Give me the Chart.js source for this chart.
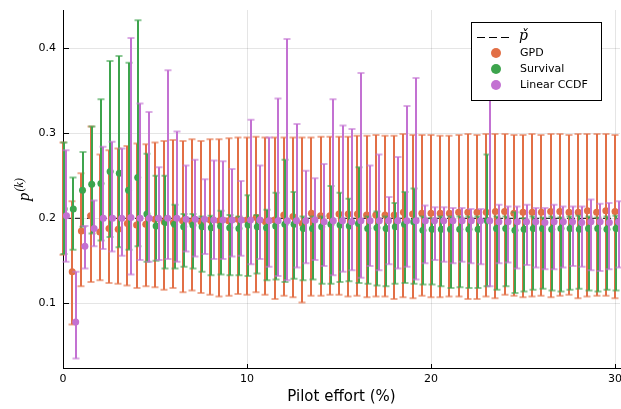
<!DOCTYPE html>
<html>
<head>
<meta charset="utf-8">
<script src="https://cdn.jsdelivr.net/npm/chart.js@4.4.1/dist/chart.umd.min.js"></script>
<style>
  html, body { margin: 0; padding: 0; background: #fff; }
  #wrap { width: 621px; height: 409px; }
</style>
</head>
<body>
<div id="wrap"><canvas id="myChart" width="621" height="409"></canvas></div>
<script>
// Pilot effort (%) grid
const effort = [0, 0.5, 1, 1.5, 2, 2.5, 3, 3.5, 4, 4.5, 5, 5.5, 6, 6.5, 7, 7.5, 8, 8.5, 9, 9.5,
    10, 10.5, 11, 11.5, 12, 12.5, 13, 13.5, 14, 14.5, 15, 15.5, 16, 16.5, 17, 17.5, 18, 18.5, 19, 19.5,
    20, 20.5, 21, 21.5, 22, 22.5, 23, 23.5, 24, 24.5, 25, 25.5, 26, 26.5, 27, 27.5, 28, 28.5, 29, 29.5, 30];

// small x shift of each method's effort values
const survShift = 0.06;
const ccdfShift = 0.19;

const pTarget = 0.2;

// GPD
const gpdMean = [0.211, 0.137, 0.185, 0.203, 0.184, 0.188, 0.187, 0.194, 0.192, 0.193,
    0.199, 0.196, 0.195, 0.197, 0.196, 0.196, 0.198, 0.197, 0.197, 0.199,
    0.198, 0.201, 0.196, 0.198, 0.204, 0.202, 0.194, 0.206, 0.203, 0.203,
    0.205, 0.205, 0.205, 0.204, 0.204, 0.204, 0.204, 0.207, 0.205, 0.206,
    0.206, 0.206, 0.206, 0.207, 0.207, 0.207, 0.207, 0.208, 0.208, 0.206,
    0.207, 0.207, 0.207, 0.208, 0.208, 0.207, 0.207, 0.209, 0.207, 0.209, 0.208];
const gpdLo = [0.157, 0.075, 0.120, 0.125, 0.127, 0.124, 0.123, 0.121, 0.118, 0.120,
    0.119, 0.116, 0.118, 0.113, 0.115, 0.112, 0.110, 0.108, 0.109, 0.111,
    0.110, 0.113, 0.110, 0.105, 0.109, 0.107, 0.101, 0.109, 0.109, 0.110,
    0.110, 0.108, 0.109, 0.107, 0.108, 0.108, 0.105, 0.107, 0.106, 0.109,
    0.107, 0.107, 0.108, 0.108, 0.105, 0.105, 0.108, 0.106, 0.110, 0.109,
    0.107, 0.108, 0.109, 0.107, 0.109, 0.110, 0.106, 0.108, 0.109, 0.109, 0.106];
const gpdHi = [0.289, 0.220, 0.253, 0.308, 0.275, 0.280, 0.282, 0.285, 0.288, 0.287,
    0.289, 0.291, 0.292, 0.291, 0.293, 0.291, 0.293, 0.293, 0.294, 0.295,
    0.295, 0.296, 0.295, 0.295, 0.295, 0.295, 0.295, 0.295, 0.296, 0.296,
    0.296, 0.296, 0.297, 0.297, 0.298, 0.297, 0.297, 0.299, 0.298, 0.298,
    0.298, 0.297, 0.297, 0.298, 0.299, 0.298, 0.299, 0.299, 0.299, 0.298,
    0.298, 0.299, 0.298, 0.299, 0.299, 0.298, 0.299, 0.299, 0.299, 0.299, 0.298];

// Survival
const survMean = [0.211, 0.211, 0.233, 0.240, 0.241, 0.255, 0.253, 0.233, 0.248, 0.205,
    0.191, 0.195, 0.193, 0.190, 0.192, 0.190, 0.189, 0.191, 0.189, 0.188,
    0.192, 0.190, 0.189, 0.191, 0.193, 0.193, 0.188, 0.188, 0.190, 0.193,
    0.192, 0.191, 0.194, 0.188, 0.189, 0.188, 0.190, 0.193, 0.196, 0.186,
    0.187, 0.187, 0.187, 0.187, 0.187, 0.187, 0.197, 0.188, 0.188, 0.186,
    0.187, 0.188, 0.188, 0.187, 0.188, 0.188, 0.187, 0.188, 0.188, 0.187, 0.188];
const survLo = [0.158, 0.163, 0.190, 0.182, 0.174, 0.178, 0.166, 0.163, 0.167, 0.149,
    0.150, 0.141, 0.141, 0.143, 0.141, 0.137, 0.133, 0.134, 0.133, 0.133,
    0.132, 0.135, 0.127, 0.128, 0.125, 0.129, 0.127, 0.128, 0.123, 0.123,
    0.125, 0.126, 0.124, 0.123, 0.121, 0.120, 0.123, 0.124, 0.123, 0.122,
    0.122, 0.120, 0.118, 0.119, 0.118, 0.118, 0.120, 0.116, 0.120, 0.112,
    0.114, 0.116, 0.117, 0.115, 0.114, 0.116, 0.117, 0.115, 0.114, 0.116, 0.115];
const survHi = [0.289, 0.248, 0.278, 0.308, 0.340, 0.385, 0.391, 0.383, 0.433, 0.276,
    0.250, 0.250, 0.216, 0.205, 0.205, 0.202, 0.203, 0.209, 0.204, 0.202,
    0.227, 0.204, 0.210, 0.230, 0.269, 0.231, 0.202, 0.202, 0.202, 0.238,
    0.230, 0.223, 0.260, 0.202, 0.208, 0.202, 0.218, 0.231, 0.235, 0.202,
    0.200, 0.202, 0.202, 0.202, 0.202, 0.202, 0.275, 0.202, 0.202, 0.207,
    0.200, 0.202, 0.201, 0.202, 0.201, 0.202, 0.203, 0.202, 0.201, 0.202, 0.203];

// Linear CCDF
const ccdfMean = [0.203, 0.078, 0.167, 0.188, 0.200, 0.200, 0.200, 0.201, 0.200, 0.200,
    0.200, 0.200, 0.200, 0.199, 0.199, 0.199, 0.198, 0.198, 0.198, 0.198,
    0.198, 0.198, 0.197, 0.197, 0.197, 0.197, 0.197, 0.198, 0.196, 0.197,
    0.197, 0.196, 0.197, 0.197, 0.197, 0.197, 0.197, 0.197, 0.197, 0.197,
    0.197, 0.197, 0.197, 0.197, 0.197, 0.197, 0.197, 0.196, 0.196, 0.196,
    0.196, 0.196, 0.195, 0.196, 0.196, 0.196, 0.195, 0.196, 0.196, 0.195, 0.196];
const ccdfLo = [0.149, 0.035, 0.141, 0.167, 0.164, 0.161, 0.156, 0.134, 0.151, 0.149,
    0.151, 0.152, 0.149, 0.161, 0.155, 0.158, 0.152, 0.152, 0.155, 0.156,
    0.146, 0.152, 0.143, 0.132, 0.127, 0.142, 0.147, 0.151, 0.144, 0.133,
    0.137, 0.139, 0.130, 0.144, 0.139, 0.146, 0.141, 0.143, 0.128, 0.147,
    0.151, 0.149, 0.147, 0.149, 0.147, 0.146, 0.120, 0.147, 0.148, 0.141,
    0.145, 0.142, 0.140, 0.140, 0.142, 0.144, 0.143, 0.139, 0.138, 0.140, 0.142];
const ccdfHi = [0.280, 0.137, 0.191, 0.221, 0.284, 0.290, 0.282, 0.412, 0.335, 0.325,
    0.260, 0.374, 0.302, 0.262, 0.269, 0.246, 0.268, 0.267, 0.258, 0.244,
    0.316, 0.262, 0.295, 0.341, 0.411, 0.311, 0.256, 0.247, 0.264, 0.340,
    0.309, 0.305, 0.371, 0.262, 0.275, 0.225, 0.272, 0.332, 0.365, 0.215,
    0.213, 0.213, 0.212, 0.212, 0.211, 0.211, 0.395, 0.216, 0.214, 0.214,
    0.216, 0.212, 0.212, 0.216, 0.214, 0.214, 0.214, 0.222, 0.217, 0.218, 0.220];

const xTicks = [0, 10, 20, 30];
const yTicks = [0.1, 0.2, 0.3, 0.4];

const colGPD = "#e26f46";
const colSurv = "#3da44d";
const colCCDF = "#c371d2";

const FONT = "'DejaVu Sans', sans-serif";
const xMax = 30.27;

function toPoints(xs, ys, shift) {
    return xs.map((x, i) => ({ x: x + shift, y: ys[i] }));
}

// error bars are drawn just before each series' markers
const errorBars = {
    id: 'errorBars',
    beforeDatasetDraw(chart, args) {
        const ds = chart.data.datasets[args.index];
        if (!ds.errLo) return;
        const ctx = chart.ctx;
        const xs = chart.scales.x, ys = chart.scales.y;
        ctx.save();
        ctx.strokeStyle = ds.backgroundColor;
        ctx.lineWidth = 2;
        ds.data.forEach((p, i) => {
            const px = Math.round(xs.getPixelForValue(p.x));
            const top = ys.getPixelForValue(ds.errHi[i]);
            const bot = ys.getPixelForValue(ds.errLo[i]);
            ctx.globalAlpha = 1;
            ctx.beginPath();
            ctx.moveTo(px, top);
            ctx.lineTo(px, bot);
            ctx.stroke();
            ctx.globalAlpha = 0.6;
            ctx.beginPath();
            ctx.moveTo(px - 3.5, top);
            ctx.lineTo(px + 3.5, top);
            ctx.moveTo(px - 3.5, bot);
            ctx.lineTo(px + 3.5, bot);
            ctx.stroke();
        });
        ctx.restore();
    }
};

// inward tick marks and x tick labels
const axisTicks = {
    id: 'axisTicks',
    beforeDatasetsDraw(chart) {
        const ctx = chart.ctx;
        const a = chart.chartArea;
        const xs = chart.scales.x, ys = chart.scales.y;
        ctx.save();
        ctx.strokeStyle = "#000";
        ctx.lineWidth = 1;
        ctx.beginPath();
        xTicks.forEach(v => {
            const px = Math.round(xs.getPixelForValue(v)) + 0.5;
            ctx.moveTo(px, a.bottom);
            ctx.lineTo(px, a.bottom - 4);
        });
        yTicks.forEach(v => {
            const py = Math.round(ys.getPixelForValue(v)) + 0.5;
            ctx.moveTo(a.left, py);
            ctx.lineTo(a.left + 6, py);
        });
        ctx.stroke();

        ctx.fillStyle = "#000";
        ctx.font = "11px " + FONT;
        ctx.textAlign = 'center';
        ctx.textBaseline = 'middle';
        xTicks.forEach(v => {
            ctx.fillText(String(v), xs.getPixelForValue(v), a.bottom + 11);
        });
        ctx.restore();
    }
};

const yLabel = {
    id: 'yLabel',
    afterDraw(chart) {
        const ctx = chart.ctx;
        const a = chart.chartArea;
        ctx.save();
        ctx.translate(29, (a.top + a.bottom) / 2 + 1);
        ctx.rotate(-Math.PI / 2);
        ctx.fillStyle = "#000";
        ctx.textBaseline = 'alphabetic';
        ctx.font = "italic 17px 'Liberation Serif'";
        const pw = ctx.measureText('p').width;
        ctx.font = "italic 12px 'Liberation Serif'";
        const kw = ctx.measureText('(k)').width;
        const x0 = -(pw + kw) / 2;
        ctx.font = "italic 17px 'Liberation Serif'";
        ctx.fillText('p', x0, 0);
        ctx.font = "italic 12px 'Liberation Serif'";
        ctx.fillText('(k)', x0 + pw + 1, -6);
        ctx.restore();
    }
};

const legendBox = {
    id: 'legendBox',
    afterDraw(chart) {
        const ctx = chart.ctx;
        const bx = 471.5, by = 22.5, bw = 130, bh = 78;
        ctx.save();
        ctx.fillStyle = "#fff";
        ctx.fillRect(bx, by, bw, bh);
        ctx.strokeStyle = "#000";
        ctx.lineWidth = 1;
        ctx.strokeRect(bx, by, bw, bh);

        ctx.setLineDash([8, 4]);
        ctx.beginPath();
        ctx.moveTo(477, 37.5);
        ctx.lineTo(513, 37.5);
        ctx.stroke();
        ctx.setLineDash([]);

        ctx.fillStyle = "#000";
        ctx.textBaseline = 'middle';
        ctx.font = "italic 14px 'DejaVu Serif'";
        ctx.fillText('p\u030C', 519, 36);

        const items = [['GPD', colGPD, 53], ['Survival', colSurv, 69], ['Linear CCDF', colCCDF, 85]];
        ctx.font = "11px " + FONT;
        items.forEach(([label, col, y]) => {
            ctx.fillStyle = col;
            ctx.beginPath();
            ctx.arc(496, y, 5, 0, Math.PI * 2);
            ctx.fill();
            ctx.fillStyle = "#000";
            ctx.fillText(label, 520, y);
        });
        ctx.restore();
    }
};

const ctx = document.getElementById("myChart").getContext("2d");
new Chart(ctx, {
    type: 'scatter',
    data: {
        datasets: [
            {
                type: 'line',
                label: 'p̌',
                data: [{ x: 0, y: pTarget }, { x: xMax, y: pTarget }],
                borderColor: "#000",
                borderWidth: 1,
                borderDash: [8, 4],
                pointRadius: 0,
                fill: false,
                order: 4
            },
            {
                label: 'GPD',
                data: toPoints(effort, gpdMean, 0),
                errLo: gpdLo, errHi: gpdHi,
                backgroundColor: colGPD,
                pointRadius: 3.5,
                pointBorderWidth: 0,
                order: 3
            },
            {
                label: 'Survival',
                data: toPoints(effort, survMean, survShift),
                errLo: survLo, errHi: survHi,
                backgroundColor: colSurv,
                pointRadius: 3.5,
                pointBorderWidth: 0,
                order: 2
            },
            {
                label: 'Linear CCDF',
                data: toPoints(effort, ccdfMean, ccdfShift),
                errLo: ccdfLo, errHi: ccdfHi,
                backgroundColor: colCCDF,
                pointRadius: 3.5,
                pointBorderWidth: 0,
                order: 1
            }
        ]
    },
    options: {
        responsive: false,
        animation: false,
        devicePixelRatio: 1,
        layout: { autoPadding: false, padding: { top: 10, right: 1, bottom: 0, left: 0 } },
        plugins: {
            legend: { display: false },
            tooltip: { enabled: false }
        },
        scales: {
            x: {
                type: 'linear',
                min: 0,
                max: xMax,
                afterBuildTicks: scale => { scale.ticks = xTicks.map(v => ({ value: v })); },
                afterFit: scale => { scale.height = 41; },
                ticks: { display: false },
                grid: { color: "rgba(0,0,0,0.1)", lineWidth: 1, drawTicks: false },
                border: { display: true, color: "#000", width: 1 },
                title: {
                    display: true,
                    text: 'Pilot effort (%)',
                    font: { family: FONT, size: 15 },
                    color: "#000",
                    padding: { top: 0, bottom: 3 }
                }
            },
            y: {
                type: 'linear',
                min: 0.0239,
                max: 0.445,
                afterBuildTicks: scale => { scale.ticks = yTicks.map(v => ({ value: v })); },
                afterFit: scale => { scale.width = 63; scale.paddingTop = 0; scale.paddingBottom = 0; },
                ticks: {
                    font: { family: FONT, size: 11 },
                    color: "#000",
                    padding: 7,
                    callback: v => v.toFixed(1)
                },
                grid: { color: "rgba(0,0,0,0.1)", lineWidth: 1, drawTicks: false },
                border: { display: true, color: "#000", width: 1 }
            }
        }
    },
    plugins: [errorBars, axisTicks, yLabel, legendBox]
});
</script>
</body>
</html>
